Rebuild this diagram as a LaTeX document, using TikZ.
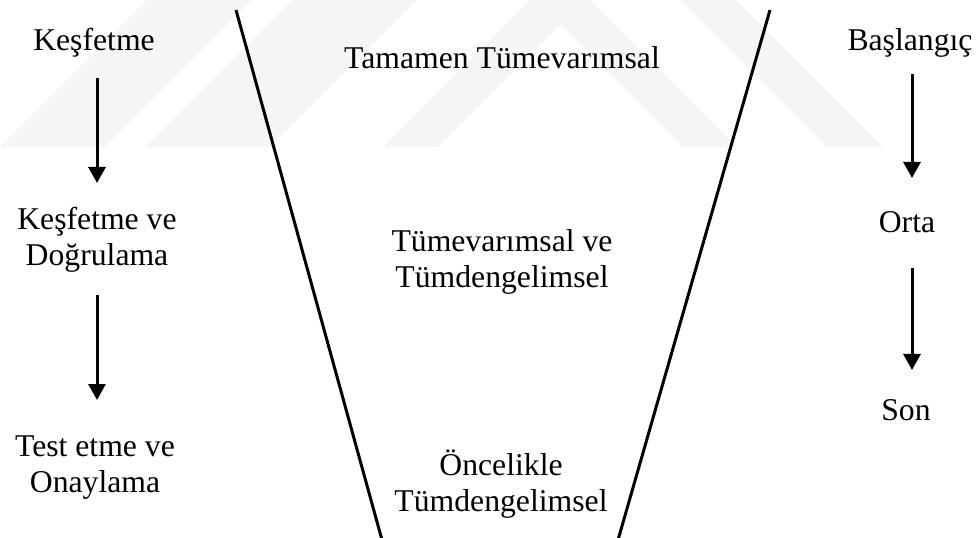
\documentclass[tikz,border=0pt]{standalone}
\usepackage{fontspec}
\setmainfont{Liberation Serif}
\usetikzlibrary{arrows.meta,calc}
\begin{document}
\begin{tikzpicture}[x=1bp,y=-1bp,
  lbl/.style={inner sep=0pt, align=center, anchor=base,
              font=\fontsize{31.7bp}{36bp}\selectfont},
  flow/.style={line width=3bp, -{Triangle[width=17bp,length=16bp]}},
  funnel/.style={line width=3bp},
  wm/.style={fill=black!4, draw=none}]
\useasboundingbox (0,0) rectangle (976,538);

% faint background stripes
\begin{scope}
  \clip (0,0) rectangle (976,538);
  \fill[wm] (0,147) -- (105,147) -- (252,0) -- (147,0) -- cycle;
  \fill[wm] (145,147) -- (270,147) -- (417,0) -- (292,0) -- cycle;
  \fill[wm] (383,147) -- (530,0) -- (590,0) -- (737,147) -- (682,147)
            -- (560,25) -- (438,147) -- cycle;
  \fill[wm] (827,147) -- (883,147) -- (736,0) -- (680,0) -- cycle;
\end{scope}

% funnel sides
\draw[funnel] (236,10) -- (382,540);
\draw[funnel] (770,10) -- (618,540);

% left column (base anchor of a two-line label sits on its last line)
\node[lbl] (k1) at (94,51) {Keşfetme};
\node[lbl] (k2) at (97,266) {Keşfetme ve\\Doğrulama};
\node[lbl] (k3) at (95,492) {Test etme ve\\Onaylama};

% middle column
\node[lbl] (m1) at (502,69) {Tamamen Tümevarımsal};
\node[lbl] (m2) at (502,288) {Tümevarımsal ve\\Tümdengelimsel};
\node[lbl] (m3) at (501,511) {Öncelikle\\Tümdengelimsel};

% right column
\node[lbl] (r1) at (910,51) {Başlangıç};
\node[lbl] (r2) at (907,233) {Orta};
\node[lbl] (r3) at (906,420) {Son};

% arrows
\draw[flow] ($(k1.base)+(3,27)$) -- ($(k2.base)+(0,-83)$);
\draw[flow] ($(k2.base)+(0,29)$) -- ($(k3.base)+(2,-92)$);
\draw[flow] ($(r1.base)+(2,23)$) -- ($(r2.base)+(5,-55)$);
\draw[flow] ($(r2.base)+(5,35)$) -- ($(r3.base)+(6,-50)$);
\end{tikzpicture}
\end{document}
